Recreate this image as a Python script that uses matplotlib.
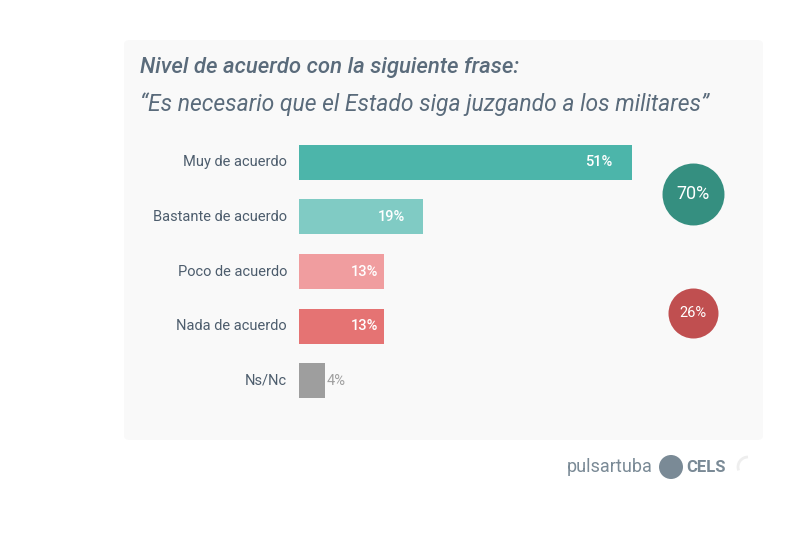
import numpy as np
import matplotlib.pyplot as plt
from matplotlib.patches import FancyBboxPatch, Circle, Arc

plt.rcParams['font.family'] = ['Roboto', 'DejaVu Sans']

categorias = ['Muy de acuerdo', 'Bastante de acuerdo', 'Poco de acuerdo',
              'Nada de acuerdo', 'Ns/Nc']
valores = [51, 19, 13, 13, 4]
colores = ['#4cb5aa', '#80cbc4', '#f09d9f', '#e57373', '#9e9e9e']

# totales agrupados (acuerdo / desacuerdo)
total_acuerdo = valores[0] + valores[1]
total_desacuerdo = valores[2] + valores[3]

W, H = 800, 533
fig = plt.figure(figsize=(8, 5.33), dpi=100)
fig.patch.set_facecolor('white')

# tarjeta gris de fondo
card = FancyBboxPatch((124 / W, 1 - 440 / H), (763 - 124) / W, (440 - 40) / H,
                      boxstyle='round,pad=0,rounding_size=0.008',
                      transform=fig.transFigure, facecolor='#f9f9f9',
                      edgecolor='none', zorder=-5)
fig.patches.append(card)

fig.text(140 / W, 1 - 68 / H, 'Nivel de acuerdo con la siguiente frase:',
         fontsize=15.9, style='italic', fontweight='medium', color='#5a6b7b',
         va='center', ha='left')
fig.text(140 / W, 1 - 104 / H,
         '\u201cEs necesario que el Estado siga juzgando a los militares\u201d',
         fontsize=16.5, style='italic', color='#5a6b7b', va='center', ha='left')

# ejes de barras: 6.53 px por punto porcentual
px_per = 6.53
xmax = 70
ax = fig.add_axes([299 / W, 1 - 408 / H, px_per * xmax / W, (408 - 135) / H],
                  zorder=2)
ax.set_xlim(0, xmax)
ax.set_ylim(4.5, -0.5)
ax.axis('off')

y = np.arange(len(categorias))
ax.barh(y, valores, height=0.64, color=colores, edgecolor='none')

offsets = [-20, -18, -6, -6]
for i, v in enumerate(valores):
    if i < 4:
        ax.annotate(f'{v}%', (v, y[i]), xytext=(offsets[i], 0),
                    textcoords='offset pixels', ha='right', va='center',
                    color='white', fontsize=10.5, fontweight='medium')
    else:
        ax.annotate(f'{v}%', (v, y[i]), xytext=(2, 0),
                    textcoords='offset pixels', ha='left', va='center',
                    color='#a0a0a0', fontsize=10.5)
    ax.annotate(categorias[i], (0, y[i]), xytext=(-12, 0),
                textcoords='offset pixels', ha='right', va='center',
                color='#4d5d6d', fontsize=10.5, annotation_clip=False)

# circulos de totales
ax.scatter([60.3], [0.58], s=1990, color='#358f80', zorder=3, linewidths=0,
           clip_on=False)
ax.text(60.3, 0.58, f'{total_acuerdo}%', ha='center', va='center',
        color='white', fontsize=13, zorder=4)
ax.scatter([60.3], [2.76], s=1296, color='#c04f50', zorder=3, linewidths=0,
           clip_on=False)
ax.text(60.3, 2.76, f'{total_desacuerdo}%', ha='center', va='center',
        color='white', fontsize=10.5, zorder=4)

# logos
fig.text(567 / W, 1 - 467 / H, 'pulsartuba', fontsize=13, color='#7a8a96',
         va='center', ha='left')
logo = Circle((671 / W * 8, (1 - 467 / H) * 5.33), 12 / 100,
              transform=fig.dpi_scale_trans, facecolor='#7a8a96',
              edgecolor='none')
fig.patches.append(logo)
fig.text(686 / W, 1 - 467 / H, 'CELS', fontsize=12, fontweight='bold',
         color='#7a8a96', va='center', ha='left')
arc = Arc((748 / W * 8, (1 - 467 / H) * 5.33), 0.2, 0.2, theta1=90,
          theta2=200, transform=fig.dpi_scale_trans, color='#eeeeee', lw=2)
fig.patches.append(arc)

plt.savefig('out.png', dpi=100, facecolor='white')
